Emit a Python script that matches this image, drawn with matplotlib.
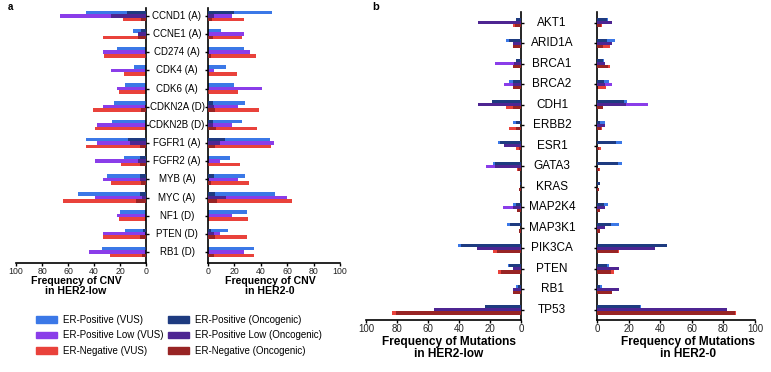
import numpy as np
import matplotlib
matplotlib.use("Agg")
import matplotlib.pyplot as plt
from matplotlib.patches import Patch
from matplotlib.transforms import blended_transform_factory

plt.rcParams['font.family'] = ['Liberation Sans', 'DejaVu Sans']

# =====================================================
# DATA
# =====================================================
cnv_genes = ["CCND1 (A)", "CCNE1 (A)", "CD274 (A)", "CDK4 (A)", "CDK6 (A)",
             "CDKN2A (D)", "CDKN2B (D)", "FGFR1 (A)", "FGFR2 (A)", "MYB (A)",
             "MYC (A)", "NF1 (D)", "PTEN (D)", "RB1 (D)"]

# CNV, HER2-low
cnv_low_pos_vus = [46, 10, 22, 9, 16, 25, 26, 46, 17, 30, 52, 20, 16, 34]
cnv_low_pos_onc = [15, 4, 0, 0, 0, 1, 0, 14, 5, 5, 5, 0, 2, 1]
cnv_low_plow_vus = [66, 6, 33, 27, 22, 33, 38, 38, 39, 33, 39, 22, 33, 44]
cnv_low_plow_onc = [27, 6, 0, 0, 0, 0, 0, 12, 6, 5, 3, 0, 0, 0]
cnv_low_neg_vus = [18, 33, 32, 17, 21, 41, 39, 46, 19, 27, 64, 21, 33, 28]
cnv_low_neg_onc = [4, 6, 1, 0, 0, 4, 0, 5, 5, 4, 8, 0, 5, 3]

# CNV, HER2-0
cnv_zero_pos_vus = [48.5, 10, 27, 14, 20, 28, 26, 47, 17, 28, 50.5, 29.5, 15, 35]
cnv_zero_pos_onc = [19.5, 0, 0, 0, 0, 3.5, 3.5, 12.5, 0, 4.5, 5.5, 0, 2, 0]
cnv_zero_plow_vus = [18, 27, 32, 4.5, 41, 22.5, 18, 50, 9, 22.5, 59.5, 18, 9, 27]
cnv_zero_plow_onc = [4.5, 0, 0, 0, 0, 4.5, 4, 9, 0, 0, 13.7, 0, 4.5, 0]
cnv_zero_neg_vus = [27, 25.5, 36, 22, 23, 39, 37, 48, 24, 31, 63.5, 30, 29.5, 35]
cnv_zero_neg_onc = [3, 4, 2, 0, 1, 5.5, 6, 5.5, 1, 2, 6.5, 0, 5.5, 4.5]

mut_genes = ["AKT1", "ARID1A", "BRCA1", "BRCA2", "CDH1", "ERBB2", "ESR1", "GATA3",
             "KRAS", "MAP2K4", "MAP3K1", "PIK3CA", "PTEN", "RB1", "TP53"]

# Mutations, HER2-low
mut_low_pos_vus = [3.4, 10, 3.4, 8, 19, 5.4, 15, 17.8, 0.8, 5, 9.2, 40.8, 8.6, 3.2, 23.5]
mut_low_pos_onc = [3, 7.5, 3, 5.4, 18.5, 3.2, 13.5, 16.7, 0.8, 3.4, 7, 38.8, 8, 2, 23]
mut_low_plow_vus = [28, 5, 16.7, 11, 28, 0, 11, 22.5, 0, 11.4, 0, 28.5, 5, 5.4, 56]
mut_low_plow_onc = [28, 5, 4.5, 5, 28, 0, 11, 16.7, 0, 5, 0, 28.5, 5, 5.4, 56]
mut_low_neg_vus = [5, 5, 5, 5, 9.7, 7.5, 3.2, 2.4, 1, 2.8, 1.3, 18.2, 15, 5.4, 83]
mut_low_neg_onc = [4, 5, 5, 5, 5, 3.4, 1, 2, 1, 2.8, 1, 15.2, 13, 5, 80.5]

# Mutations, HER2-0
mut_zero_pos_vus = [7, 11.6, 4.4, 7.6, 18.7, 5, 15.8, 16, 1.7, 7, 14, 44.6, 7.6, 3, 28]
mut_zero_pos_onc = [6.3, 6.3, 3.8, 4.2, 16.8, 2, 12.2, 13.3, 1.7, 4.2, 9, 44.2, 6.3, 1.7, 27.4]
mut_zero_plow_vus = [9.5, 9.5, 4.8, 9.5, 32, 4.8, 0, 0, 0, 4.8, 4.8, 36.8, 13.9, 13.9, 82]
mut_zero_plow_onc = [9.5, 9.5, 4.8, 5.3, 18.3, 4.8, 0, 0, 0, 4.8, 4.8, 36.8, 13.9, 13.9, 82]
mut_zero_neg_vus = [3, 8, 8, 5.5, 3.8, 3.4, 2.3, 1.7, 1, 1.7, 1.7, 13.9, 11, 9.5, 87.8]
mut_zero_neg_onc = [2.5, 3.8, 6.7, 0, 3.8, 2.5, 1.5, 1, 1, 1.7, 1.7, 13, 8.8, 9.5, 87.4]

legend_labels = ["ER-Positive (VUS)", "ER-Positive Low (VUS)", "ER-Negative (VUS)",
                 "ER-Positive (Oncogenic)", "ER-Positive Low (Oncogenic)",
                 "ER-Negative (Oncogenic)"]

# =====================================================
# STYLE
# =====================================================
C_VUS = ["#3b78e7", "#8a3de9", "#e9423b"]
C_ONC = ["#1e3b80", "#4e2592", "#982424"]

W, H = 771, 372
fig = plt.figure(figsize=(W / 100, H / 100), dpi=100)


def px_axes(x0, x1, y0, y1):
    # pixel box (top-left origin) -> figure axes
    return fig.add_axes([x0 / W, 1 - y1 / H, (x1 - x0) / W, (y1 - y0) / H])


def draw_panel(ax, vus, onc, off, h, side, tick_fs):
    n = len(vus[0])
    y = np.arange(n)
    for k in range(3):
        ax.barh(y + (k - 1) * off, vus[k], height=h, color=C_VUS[k], lw=0, zorder=2)
        ax.barh(y + (k - 1) * off, onc[k], height=h, color=C_ONC[k], lw=0, zorder=3)
    ax.set_yticks(y)
    ax.set_yticklabels([])
    ax.set_xticks([0, 20, 40, 60, 80, 100])
    ax.set_xlim(0, 100)
    if side == "left":
        ax.invert_xaxis()
        ax.spines["left"].set_visible(False)
        ax.yaxis.tick_right()
    else:
        ax.spines["right"].set_visible(False)
    ax.spines["top"].set_visible(False)
    for s in ["left", "right", "bottom"]:
        ax.spines[s].set_linewidth(1.2)
    ax.tick_params(axis="both", direction="out", length=2.3, width=1.0,
                   labelsize=tick_fs, pad=0.8, labelcolor="#222222")


def gene_labels(ax, genes, xc, fs):
    tr = blended_transform_factory(fig.transFigure, ax.transData)
    for i, g in enumerate(genes):
        ax.text(xc / W, i, g, transform=tr, ha="center", va="center",
                fontsize=fs, clip_on=False)


# =====================================================
# PANEL a : CNV
# =====================================================
ax1 = px_axes(16, 146, 8, 262.7)
ax2 = px_axes(208, 340, 8, 262.7)
draw_panel(ax1, [cnv_low_pos_vus, cnv_low_plow_vus, cnv_low_neg_vus],
           [cnv_low_pos_onc, cnv_low_plow_onc, cnv_low_neg_onc], 0.19, 0.2, "left", 6.3)
draw_panel(ax2, [cnv_zero_pos_vus, cnv_zero_plow_vus, cnv_zero_neg_vus],
           [cnv_zero_pos_onc, cnv_zero_plow_onc, cnv_zero_neg_onc], 0.19, 0.2, "right", 6.3)
for ax in (ax1, ax2):
    ax.set_ylim(13.59, -0.44)
gene_labels(ax1, cnv_genes, 177, 7)

fig.text(76 / W, 1 - 275.5 / H, "Frequency of CNV\nin HER2-low", ha="center", va="top",
         fontsize=7.6, fontweight="bold", linespacing=1.05)
fig.text(270 / W, 1 - 275.5 / H, "Frequency of CNV\nin HER2-0", ha="center", va="top",
         fontsize=7.6, fontweight="bold", linespacing=1.05)

# =====================================================
# PANEL b : MUTATIONS
# =====================================================
ax3 = px_axes(366, 521, 12, 320)
ax4 = px_axes(597, 755, 12, 320)
draw_panel(ax3, [mut_low_pos_vus, mut_low_plow_vus, mut_low_neg_vus],
           [mut_low_pos_onc, mut_low_plow_onc, mut_low_neg_onc], 0.15, 0.155, "left", 7)
draw_panel(ax4, [mut_zero_pos_vus, mut_zero_plow_vus, mut_zero_neg_vus],
           [mut_zero_pos_onc, mut_zero_plow_onc, mut_zero_neg_onc], 0.15, 0.155, "right", 7)
for ax in (ax3, ax4):
    ax.set_ylim(14.49, -0.52)
gene_labels(ax3, mut_genes, 552, 8.5)

fig.text(449 / W, 1 - 336 / H, "Frequency of Mutations\nin HER2-low", ha="center", va="top",
         fontsize=8.6, fontweight="bold", linespacing=1.05)
fig.text(688 / W, 1 - 336 / H, "Frequency of Mutations\nin HER2-0", ha="center", va="top",
         fontsize=8.6, fontweight="bold", linespacing=1.05)

# =====================================================
# LEGEND + PANEL LETTERS
# =====================================================
handles = [Patch(color=c) for c in C_VUS + C_ONC]
fig.legend(handles, legend_labels, loc="upper left", bbox_to_anchor=(36 / W, 1 - 315 / H),
           ncol=2, frameon=False, fontsize=7, handlelength=2.2, handleheight=0.65,
           handletextpad=0.55, labelspacing=0.55, columnspacing=0.5, borderpad=0,
           borderaxespad=0)

fig.text(8 / W, 1 - 7 / H, "a", fontsize=7, fontweight="bold", va="center")
fig.text(372 / W, 1 - 7 / H, "b", fontsize=8, fontweight="bold", va="center")

plt.savefig("out.png", dpi=100)
plt.close()
